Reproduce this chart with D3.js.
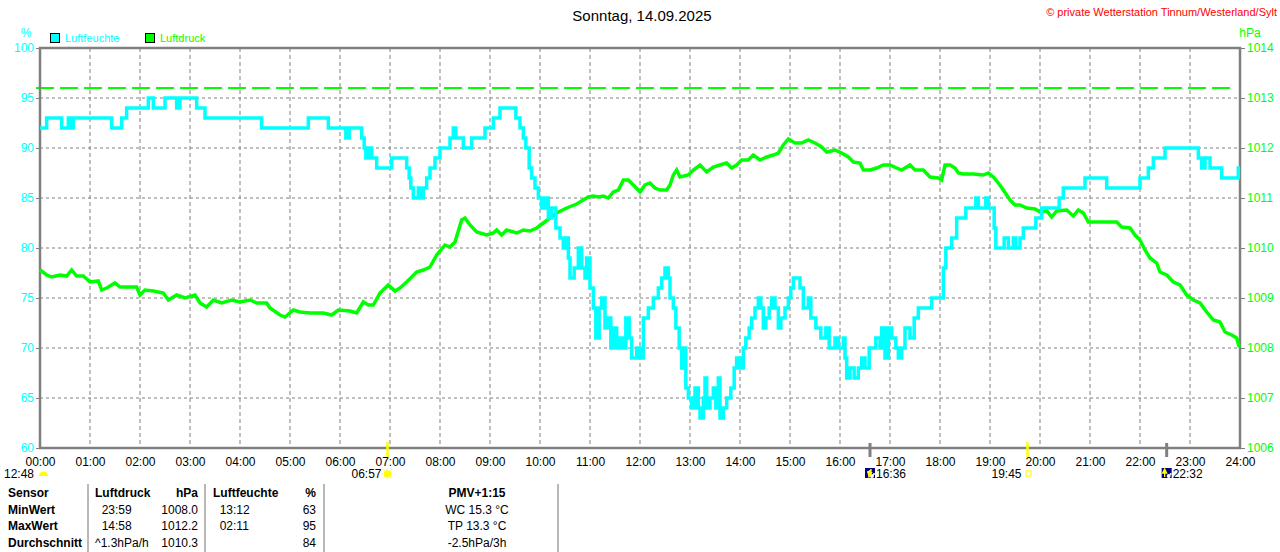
<!DOCTYPE html>
<html>
<head>
<meta charset="utf-8">
<script src="https://cdn.jsdelivr.net/npm/d3@7"></script>
<style>
  body { margin: 0; background: #fff; }
  text { font-family: Arial, "Liberation Sans", sans-serif; }
</style>
</head>
<body>
<svg id="chart" width="1280" height="552"></svg>
<script>
// ---- data (time = minutes since 00:00) ----
var titleText = "Sonntag, 14.09.2025";
var copyrightText = "\u00a9 private Wetterstation Tinnum/Westerland/Sylt";

var hourTicks = d3.range(0, 25);
var humTicks = [60, 65, 70, 75, 80, 85, 90, 95, 100];
var presTicks = [1006, 1007, 1008, 1009, 1010, 1011, 1012, 1013, 1014];
var refHum = 96; // green dashed reference line

// Luftfeuchte in %
var humidity = [[0,92],[8,93],[26,92],[34,93],[36,92],[40,93],[86,92],[98,93],[104,94],[130,95],
  [136,94],[150,95],[164,94],[168,95],[188,94],[198,93],[266,92],[322,93],[346,92],[367,91],
  [371,92],[386,91],[389,90],[391,89],[394,90],[398,89],[404,88],[422,89],[440,88],[443,87],
  [445,86],[448,85],[454,86],[456,85],[460,86],[464,87],[468,88],[474,89],[480,90],[492,91],
  [496,92],[499,91],[508,90],[518,91],[534,92],[544,93],[552,94],[571,93],[576,92],[580,91],
  [583,90],[587,88],[590,87],[594,86],[598,85],[602,84],[606,85],[610,83],[614,84],[619,82],
  [624,81],[628,80],[630,81],[634,79],[636,77],[641,78],[646,80],[650,78],[654,77],[656,79],
  [660,76],[664,74],[667,71],[671,74],[674,75],[678,72],[682,73],[685,70],[689,72],[692,70],
  [696,71],[700,70],[703,73],[707,71],[710,69],[716,70],[720,69],[724,73],[730,74],[736,75],
  [742,76],[746,77],[750,78],[754,77],[756,75],[760,74],[763,72],[767,70],[770,68],[773,70],
  [775,66],[778,65],[782,64],[786,66],[790,64],[792,63],[796,65],[798,67],[800,64],[804,65],
  [808,66],[811,64],[814,67],[816,63],[820,64],[824,65],[829,66],[833,68],[836,69],[840,68],
  [844,70],[847,71],[851,72],[854,73],[858,74],[862,75],[865,74],[868,72],[871,73],[875,74],
  [878,75],[882,74],[886,72],[889,73],[894,74],[898,75],[901,76],[904,77],[912,76],[916,74],
  [922,75],[925,73],[931,72],[937,71],[943,72],[947,70],[954,71],[958,70],[964,71],[966,69],
  [968,67],[972,68],[977,67],[982,68],[986,69],[990,68],[995,70],[1003,71],[1008,70],[1010,72],
  [1014,69],[1018,72],[1022,71],[1027,70],[1030,69],[1034,70],[1038,72],[1044,71],[1049,73],[1054,74],
  [1070,75],[1084,78],[1087,80],[1094,81],[1100,83],[1111,84],[1123,85],[1126,84],[1135,85],[1138,84],
  [1145,82],[1147,80],[1157,81],[1162,80],[1168,81],[1171,80],[1176,81],[1180,82],[1195,83],[1202,84],
  [1223,85],[1228,86],[1254,87],[1280,86],[1320,87],[1330,88],[1336,89],[1350,90],[1390,89],[1394,88],
  [1398,89],[1404,88],[1418,87],[1438,88],[1440,88]];

// Luftdruck in hPa
var pressure = [[0,1009.56],[8,1009.46],[14,1009.42],[24,1009.46],[32,1009.44],[38,1009.56],[44,1009.44],[52,1009.44],[60,1009.32],[70,1009.34],
  [74,1009.16],[80,1009.2],[90,1009.3],[96,1009.22],[116,1009.22],[120,1009.06],[126,1009.16],[136,1009.14],[148,1009.1],[154,1008.96],
  [164,1009.06],[174,1009.0],[186,1009.06],[192,1008.9],[200,1008.82],[208,1008.96],[218,1008.9],[230,1008.96],[240,1008.92],[252,1008.96],
  [260,1008.9],[272,1008.9],[276,1008.8],[288,1008.66],[294,1008.62],[304,1008.76],[312,1008.72],[324,1008.7],[340,1008.7],[350,1008.66],
  [358,1008.76],[372,1008.74],[380,1008.7],[388,1008.92],[394,1008.86],[400,1008.86],[408,1009.1],[418,1009.26],[426,1009.14],[432,1009.2],
  [440,1009.32],[452,1009.52],[460,1009.56],[468,1009.62],[476,1009.86],[486,1010.06],[492,1010.02],[498,1010.12],[506,1010.56],[510,1010.6],
  [516,1010.46],[524,1010.32],[536,1010.26],[544,1010.3],[548,1010.36],[554,1010.26],[560,1010.36],[572,1010.3],[580,1010.36],[588,1010.34],
  [596,1010.4],[604,1010.5],[612,1010.6],[620,1010.7],[632,1010.8],[644,1010.88],[658,1011.02],[664,1011.04],[670,1011.02],[676,1011.04],
  [682,1011.0],[688,1011.12],[694,1011.16],[700,1011.36],[706,1011.36],[712,1011.26],[720,1011.12],[726,1011.26],[732,1011.3],[738,1011.2],
  [744,1011.16],[752,1011.16],[756,1011.26],[760,1011.46],[764,1011.56],[768,1011.42],[778,1011.46],[784,1011.56],[792,1011.66],[800,1011.52],
  [808,1011.62],[816,1011.66],[824,1011.7],[830,1011.6],[836,1011.66],[842,1011.76],[850,1011.76],[856,1011.86],[864,1011.76],[872,1011.82],
  [880,1011.86],[886,1011.9],[892,1012.06],[898,1012.18],[906,1012.1],[914,1012.1],[922,1012.16],[930,1012.1],[938,1012.02],[944,1011.92],
  [954,1011.96],[962,1011.9],[970,1011.82],[976,1011.72],[984,1011.7],[988,1011.56],[996,1011.56],[1004,1011.6],[1012,1011.66],[1020,1011.66],
  [1028,1011.6],[1034,1011.56],[1044,1011.66],[1050,1011.56],[1060,1011.56],[1068,1011.42],[1078,1011.4],[1082,1011.36],[1086,1011.66],[1092,1011.66],
  [1098,1011.6],[1102,1011.5],[1108,1011.48],[1120,1011.48],[1132,1011.46],[1138,1011.5],[1144,1011.42],[1150,1011.3],[1156,1011.16],[1164,1010.96],
  [1170,1010.86],[1176,1010.86],[1184,1010.8],[1194,1010.78],[1200,1010.72],[1208,1010.74],[1214,1010.62],[1220,1010.74],[1232,1010.76],[1240,1010.64],
  [1246,1010.76],[1252,1010.7],[1258,1010.52],[1268,1010.52],[1280,1010.52],[1292,1010.52],[1298,1010.42],[1308,1010.4],[1314,1010.26],[1320,1010.16],
  [1326,1009.96],[1332,1009.8],[1340,1009.7],[1344,1009.52],[1352,1009.46],[1360,1009.32],[1368,1009.26],[1376,1009.06],[1384,1008.96],[1392,1008.9],
  [1400,1008.72],[1408,1008.56],[1416,1008.52],[1422,1008.32],[1430,1008.26],[1436,1008.2],[1439,1008.02]];

// sun / moon events under the time axis
var events = [
  {time: 0,    label: "12:48", icon: "moon",     side: "left",  tick: null},
  {time: 417,  label: "06:57", icon: "sunrise",  side: "left",  tick: "sun"},
  {time: 996,  label: "16:36", icon: "moonset",  side: "right", tick: "moon"},
  {time: 1185, label: "19:45", icon: "sunset",   side: "left",  tick: "sun"},
  {time: 1352, label: "22:32", icon: "moonrise", side: "right", tick: "moon"}
];

// statistics table
var tableRows = ["Sensor", "MinWert", "MaxWert", "Durchschnitt"];
var presTimes = ["", "23:59", "14:58", "^1.3hPa/h"];
var presStats = ["hPa", "1008.0", "1012.2", "1010.3"];
var humTimes = ["", "13:12", "02:11", ""];
var humStats = ["%", "63", "95", "84"];
var pmvLines = ["PMV+1:15", "WC 15.3 \u00b0C", "TP 13.3 \u00b0C", "-2.5hPa/3h"];

// ---- chart ----
var svg = d3.select("#chart");
var plot = {left: 40, right: 1240, top: 48, bottom: 448};
var gridColor = "#808080";
var humColor = "#00ffff", presColor = "#00ff00";

var x = d3.scaleLinear().domain([0, 1440]).range([plot.left, plot.right]);
var yHum = d3.scaleLinear().domain([60, 100]).range([plot.bottom, plot.top]);
var yPres = d3.scaleLinear().domain([1006, 1014]).range([plot.bottom, plot.top]);

// title + copyright
svg.append("text").attr("x", 642).attr("y", 21).attr("text-anchor", "middle")
  .style("font-size", "15px").attr("fill", "#000").text(titleText);
svg.append("text").attr("x", 1277).attr("y", 16).attr("text-anchor", "end")
  .style("font-size", "11px").attr("fill", "#ff0000").text(copyrightText);

// units
svg.append("text").attr("x", 26).attr("y", 37).attr("text-anchor", "middle")
  .style("font-size", "12px").attr("fill", humColor).text("%");
svg.append("text").attr("x", 1250).attr("y", 37).attr("text-anchor", "middle")
  .style("font-size", "12px").attr("fill", presColor).text("hPa");

// legend
var legend = [{name: "Luftfeuchte", color: humColor, x: 50}, {name: "Luftdruck", color: presColor, x: 145}];
var lg = svg.append("g").selectAll("g").data(legend).enter().append("g");
lg.append("rect").attr("x", function(d) { return d.x + 0.5; }).attr("y", 33.5)
  .attr("width", 9).attr("height", 9).attr("fill", function(d) { return d.color; })
  .attr("stroke", "#000").attr("stroke-width", 1);
lg.append("text").attr("x", function(d) { return d.x + 15; }).attr("y", 42)
  .style("font-size", "11px").attr("fill", function(d) { return d.color; })
  .text(function(d) { return d.name; });

// grid
svg.append("g").selectAll("line").data(hourTicks.slice(1, -1)).enter().append("line")
  .attr("x1", function(d) { return x(d * 60); }).attr("x2", function(d) { return x(d * 60); })
  .attr("y1", plot.top).attr("y2", plot.bottom)
  .attr("stroke", gridColor).attr("stroke-dasharray", "4,3");
svg.append("g").selectAll("line").data(humTicks.slice(1, -1)).enter().append("line")
  .attr("x1", plot.left).attr("x2", plot.right)
  .attr("y1", function(d) { return yHum(d); }).attr("y2", function(d) { return yHum(d); })
  .attr("stroke", gridColor).attr("stroke-dasharray", "3,3");

// reference line
svg.append("line").attr("x1", 36).attr("x2", 1231)
  .attr("y1", yHum(refHum)).attr("y2", yHum(refHum))
  .attr("stroke", presColor).attr("stroke-width", 2).attr("stroke-dasharray", "18,6");

// frame
svg.append("rect").attr("x", plot.left).attr("y", plot.top)
  .attr("width", plot.right - plot.left).attr("height", plot.bottom - plot.top)
  .attr("fill", "none").attr("stroke", gridColor).attr("stroke-width", 2.5);

// axes
var leftAxis = svg.append("g").attr("transform", "translate(" + plot.left + ",0)")
  .call(d3.axisLeft(yHum).tickValues(humTicks).tickSize(4).tickPadding(2));
var rightAxis = svg.append("g").attr("transform", "translate(" + plot.right + ",0)")
  .call(d3.axisRight(yPres).tickValues(presTicks).tickSize(5).tickPadding(2).tickFormat(d3.format("d")));
var timeAxis = svg.append("g").attr("transform", "translate(0," + plot.bottom + ")")
  .call(d3.axisBottom(x).tickValues(hourTicks.map(function(h) { return h * 60; }))
    .tickSize(0).tickPadding(9)
    .tickFormat(function(d) { return d3.format("02d")(d / 60) + ":00"; }));
[leftAxis, rightAxis, timeAxis].forEach(function(a) {
  a.select(".domain").remove();
  a.selectAll("line").attr("stroke", gridColor);
  a.selectAll("text").style("font-size", "12px").style("font-family", "Arial, 'Liberation Sans', sans-serif");
});
leftAxis.selectAll("text").attr("fill", humColor);
rightAxis.selectAll("text").attr("fill", presColor);
timeAxis.selectAll("text").attr("fill", "#000");

// series
var presLine = d3.line().x(function(d) { return x(d[0]); }).y(function(d) { return yPres(d[1]); });
var humLine = d3.line().curve(d3.curveStepAfter)
  .x(function(d) { return x(d[0]); }).y(function(d) { return yHum(d[1]); });

svg.append("path").datum(pressure).attr("d", presLine)
  .attr("fill", "none").attr("stroke", presColor).attr("stroke-width", 3.5).attr("stroke-linejoin", "miter");
svg.append("path").datum(humidity).attr("d", humLine)
  .attr("fill", "none").attr("stroke", humColor).attr("stroke-width", 3.5);

// events
var ev = svg.append("g").selectAll("g").data(events).enter().append("g")
  .attr("transform", function(d) { return "translate(" + x(d.time) + ",0)"; });

ev.filter(function(d) { return d.tick == "sun"; }).append("line")
  .attr("x1", 0).attr("x2", 0).attr("y1", 442).attr("y2", 457)
  .attr("stroke", "#ffff00").attr("stroke-width", 2.5);
ev.filter(function(d) { return d.tick == "moon"; }).append("line")
  .attr("x1", 0).attr("x2", 0).attr("y1", 443).attr("y2", 457)
  .attr("stroke", gridColor).attr("stroke-width", 3);

ev.append("text")
  .attr("x", function(d) { return d.side == "left" ? -6 : 6; })
  .attr("y", 478)
  .attr("text-anchor", function(d) { return d.side == "left" ? "end" : "start"; })
  .style("font-size", "12px").attr("fill", "#000")
  .text(function(d) { return d.label; });

// icons
ev.filter(function(d) { return d.icon == "moon"; }).append("path")
  .attr("d", "M-1,476 A4.5,4.5 0 0 1 8,476 Z").attr("fill", "#ffff00");

var sun = ev.filter(function(d) { return d.icon == "sunrise"; });
sun.selectAll("line").data(d3.range(8)).enter().append("line")
  .attr("x1", function(i) { return Math.cos(i * Math.PI / 4) * 4; })
  .attr("y1", function(i) { return 474 + Math.sin(i * Math.PI / 4) * 4; })
  .attr("x2", function(i) { return Math.cos(i * Math.PI / 4) * 6.5; })
  .attr("y2", function(i) { return 474 + Math.sin(i * Math.PI / 4) * 6.5; })
  .attr("stroke", "#ffff80").attr("stroke-width", 1.2);
sun.append("circle").attr("cx", 0).attr("cy", 474).attr("r", 3.8).attr("fill", "#ffff00");

ev.filter(function(d) { return d.icon == "sunset"; }).append("rect")
  .attr("x", -1.5).attr("y", 471).attr("width", 5).attr("height", 5)
  .attr("fill", "none").attr("stroke", "#ffff00").attr("stroke-width", 1.2);

var moonIcon = ev.filter(function(d) { return d.icon == "moonset" || d.icon == "moonrise"; });
moonIcon.append("rect").attr("x", -5).attr("y", 468).attr("width", 10).attr("height", 10).attr("fill", "#000080");
moonIcon.append("circle").attr("cx", 2).attr("cy", 476).attr("r", 2).attr("fill", "#ffffff");
moonIcon.append("circle").attr("cx", 4).attr("cy", 474).attr("r", 1).attr("fill", "#ffffff");
moonIcon.append("path")
  .attr("d", function(d) {
    return d.icon == "moonset"
      ? "M-3,472 L1,472 L1,469 M-2,472 L-1,477 L2,472"
      : "M-2,477 L-2,473 M-4,473 L-2,469 L0,473 Z";
  })
  .attr("fill", "#ffff00").attr("stroke", "#ffff00").attr("stroke-width", 1.3);

// table
var table = svg.append("g").style("font-size", "12px").attr("fill", "#000");
var rowY = [497, 514, 530, 547];
[88, 205, 324, 558].forEach(function(sx) {
  table.append("line").attr("x1", sx).attr("x2", sx).attr("y1", 484).attr("y2", 552)
    .attr("stroke", "#a0a0a0").attr("stroke-width", 1.5);
});

function col(values, xpos, anchor, boldFirst, allBold) {
  table.selectAll(null).data(values).enter().append("text")
    .attr("x", xpos).attr("y", function(d, i) { return rowY[i]; })
    .attr("text-anchor", anchor)
    .style("font-weight", function(d, i) { return allBold || (boldFirst && i == 0) ? "bold" : "normal"; })
    .text(function(d) { return d; });
}
col(tableRows, 8, "start", true, true);
col(["Luftdruck"], 95, "start", true);
col(presTimes.map(function(d, i) { return i == 3 ? d : "  " + d; }), 95, "start", false);
col(presStats, 198, "end", true);
col(["Luftfeuchte"], 213, "start", true);
col(humTimes.map(function(d) { return "  " + d; }), 213, "start", false);
col(humStats, 316, "end", true);
col(pmvLines, 477, "middle", true);
table.selectAll("text").style("white-space", "pre").attr("xml:space", "preserve");
</script>
</body>
</html>
